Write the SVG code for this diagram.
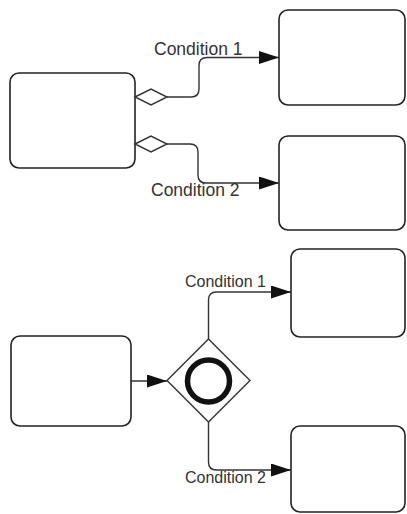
<svg xmlns="http://www.w3.org/2000/svg" width="407" height="514" viewBox="0 0 407 514">
<defs>
<style>
.box{fill:#fff;stroke:#222;stroke-width:1.6}
.conn{fill:none;stroke:#333;stroke-width:1.4}
.dia{fill:#fff;stroke:#333;stroke-width:1.4}
.lbl{font-family:"Liberation Sans",Arial,sans-serif;fill:#333}
</style>
<marker id="arr" markerUnits="userSpaceOnUse" markerWidth="21" markerHeight="14" refX="20" refY="6.5" orient="auto">
<path d="M0,0 L20,6.5 L0,13 z" fill="#111"/>
</marker>
</defs>
<rect width="407" height="514" fill="#fff"/>
<g id="connectors">
<path class="conn" d="M167,97 H191 Q199,97 199,89 V65.5 Q199,57.5 207,57.5 H279" marker-end="url(#arr)"/>
<path class="conn" d="M167,144 H190 Q198,144 198,152 V175 Q198,183 206,183 H279" marker-end="url(#arr)"/>
<path class="conn" d="M131,381 H167" marker-end="url(#arr)"/>
<path class="conn" d="M208.5,339 V300 Q208.5,292 216.5,292 H291" marker-end="url(#arr)"/>
<path class="conn" d="M208.5,422 V462 Q208.5,470 216.5,470 H291" marker-end="url(#arr)"/>
</g>
<g id="taskA"><rect class="box" x="10" y="73" width="125" height="95" rx="9"/></g>
<g id="taskB"><rect class="box" x="279" y="10" width="126" height="95" rx="9"/></g>
<g id="taskC"><rect class="box" x="279" y="136" width="126" height="94" rx="9"/></g>
<g id="cond1"><polygon class="dia" points="135,97 151,89 167,97 151,105"/></g>
<g id="cond2"><polygon class="dia" points="135,144 151,136 167,144 151,152"/></g>
<g id="taskD"><rect class="box" x="11" y="336" width="120" height="90" rx="9"/></g>
<g id="gateway">
<polygon class="dia" points="167,380.5 208.5,339 250,380.5 208.5,422"/>
<circle cx="208.5" cy="381" r="21" fill="none" stroke="#111" stroke-width="5.5"/>
</g>
<g id="taskE"><rect class="box" x="291" y="249" width="114" height="88" rx="9"/></g>
<g id="taskF"><rect class="box" x="291" y="426" width="114" height="86" rx="9"/></g>
<g id="labels">
<text class="lbl" x="154" y="55" font-size="17.5">Condition 1</text>
<text class="lbl" x="151" y="196" font-size="17.5">Condition 2</text>
<text class="lbl" x="185" y="286.5" font-size="16">Condition 1</text>
<text class="lbl" x="185" y="483" font-size="16">Condition 2</text>
</g>
</svg>
